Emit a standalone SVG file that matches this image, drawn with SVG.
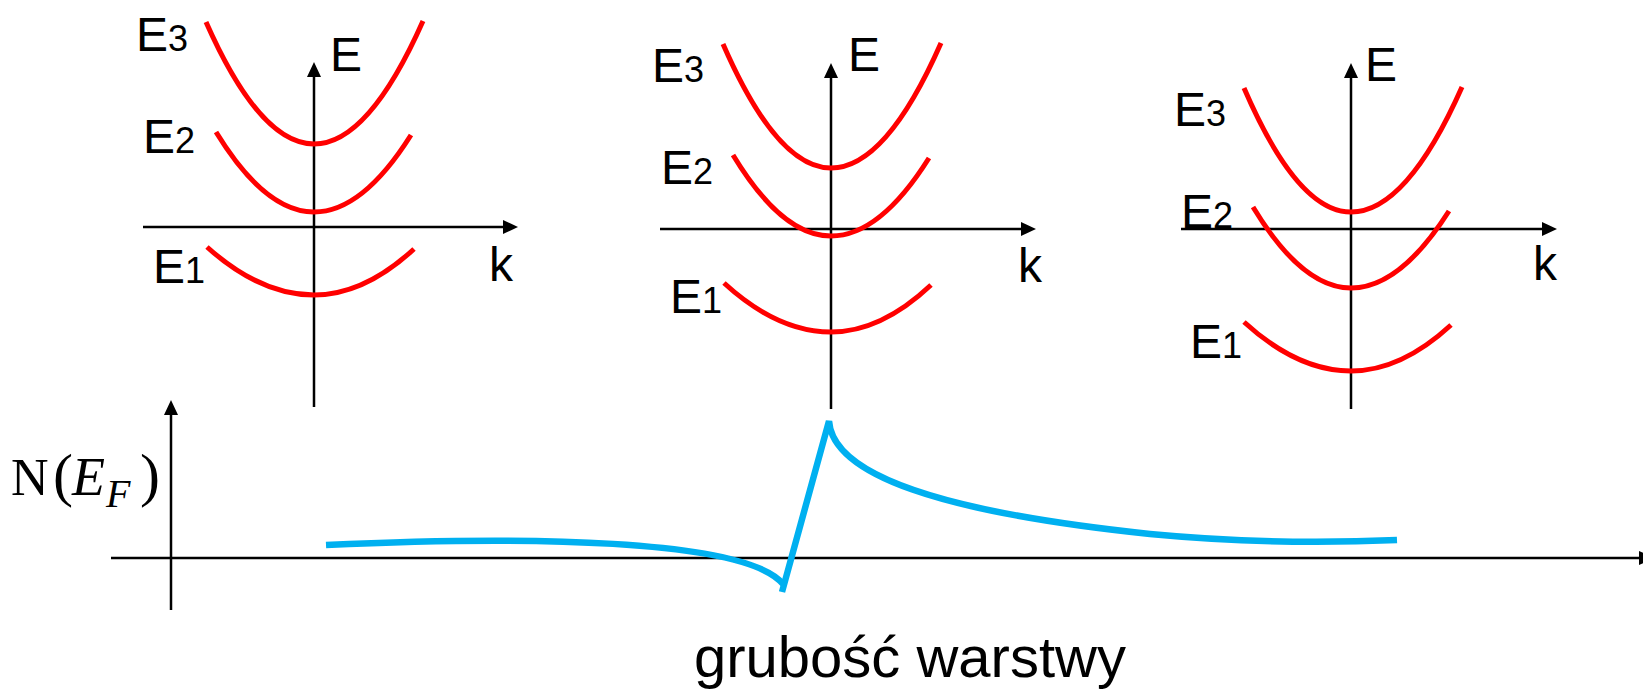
<svg xmlns="http://www.w3.org/2000/svg" width="1643" height="689" viewBox="0 0 1643 689">
<defs>
<marker id="arr" markerUnits="userSpaceOnUse" markerWidth="16" markerHeight="16" refX="5" refY="7" orient="auto">
<path d="M0,0 L15,7 L0,14 z" fill="#000"/>
</marker>
<style>
.ax{stroke:#000;stroke-width:2.5;fill:none}
.band{stroke:#FF0000;stroke-width:5;fill:none}
.dos{stroke:#00B0F0;stroke-width:6.5;fill:none}
.lb{font-family:"Liberation Sans",Arial,sans-serif;font-size:48px;fill:#000}
.sub{font-size:36px}
.ser{font-family:"Liberation Serif","Times New Roman",serif;fill:#000}
</style>
</defs>
<rect width="1643" height="689" fill="#fff"/>

<g id="panel1">
<g id="p1-axes">
<line class="ax" x1="314" y1="407" x2="314" y2="72" marker-end="url(#arr)"/>
<line class="ax" x1="143" y1="227" x2="508" y2="227" marker-end="url(#arr)"/>
</g>
<path class="band" d="M206,22 Q260,144 314,144 Q368.5,144 423,21"/>
<path class="band" d="M216,132 Q265,212 314,212 Q362.5,212 411,135"/>
<path class="band" d="M207,247 Q260.5,295 314,295 Q364,295 414,249"/>
<text class="lb" x="330" y="71">E</text>
<text class="lb" x="136" y="51">E<tspan class="sub">3</tspan></text>
<text class="lb" x="143" y="153">E<tspan class="sub">2</tspan></text>
<text class="lb" x="153" y="283">E<tspan class="sub">1</tspan></text>
<text class="lb" x="489" y="281">k</text>
</g>

<g id="panel2">
<g id="p2-axes">
<line class="ax" x1="831" y1="409" x2="831" y2="73" marker-end="url(#arr)"/>
<line class="ax" x1="660" y1="229" x2="1026" y2="229" marker-end="url(#arr)"/>
</g>
<path class="band" d="M723,44 Q777,168 831,168 Q886,168 941,43"/>
<path class="band" d="M733,155 Q782,236 831,236 Q880,236 929,158"/>
<path class="band" d="M724,283 Q777.5,332 831,332 Q881,332 931,285"/>
<text class="lb" x="848" y="71">E</text>
<text class="lb" x="652" y="82">E<tspan class="sub">3</tspan></text>
<text class="lb" x="661" y="184">E<tspan class="sub">2</tspan></text>
<text class="lb" x="670" y="313">E<tspan class="sub">1</tspan></text>
<text class="lb" x="1018" y="282">k</text>
</g>

<g id="panel3">
<g id="p3-axes">
<line class="ax" x1="1351" y1="409" x2="1351" y2="73" marker-end="url(#arr)"/>
<line class="ax" x1="1181" y1="229" x2="1547" y2="229" marker-end="url(#arr)"/>
</g>
<path class="band" d="M1244,88 Q1297.5,212 1351,212 Q1406.5,212 1462,87"/>
<path class="band" d="M1253,207 Q1302,288 1351,288 Q1400,288 1449,211"/>
<path class="band" d="M1244,322 Q1297.5,371 1351,371 Q1401,371 1451,325"/>
<text class="lb" x="1365" y="81">E</text>
<text class="lb" x="1174" y="126">E<tspan class="sub">3</tspan></text>
<text class="lb" x="1181" y="228">E<tspan class="sub">2</tspan></text>
<text class="lb" x="1190" y="358">E<tspan class="sub">1</tspan></text>
<text class="lb" x="1533" y="280">k</text>
</g>

<g id="dos-plot">
<g id="dos-axes">
<line class="ax" x1="171" y1="610" x2="171" y2="410" marker-end="url(#arr)"/>
<line class="ax" x1="111" y1="558" x2="1644" y2="558" marker-end="url(#arr)"/>
</g>
<path class="dos" d="M326,545 C520,536 745,538 783,584"/>
<path class="dos" d="M782,592 L829,421 C833,475 940,512 1150,534 C1250,543.5 1330,543 1397,540"/>
<text class="ser" y="495"><tspan x="11" font-size="52">N</tspan><tspan x="53" font-size="60">(</tspan><tspan x="72" font-size="54" font-style="italic">E</tspan><tspan x="106" y="507" font-size="40" font-style="italic">F</tspan><tspan x="140" y="495" font-size="60">)</tspan></text>
<text class="lb" x="694" y="677" style="font-size:58px">grubość warstwy</text>
</g>
</svg>
